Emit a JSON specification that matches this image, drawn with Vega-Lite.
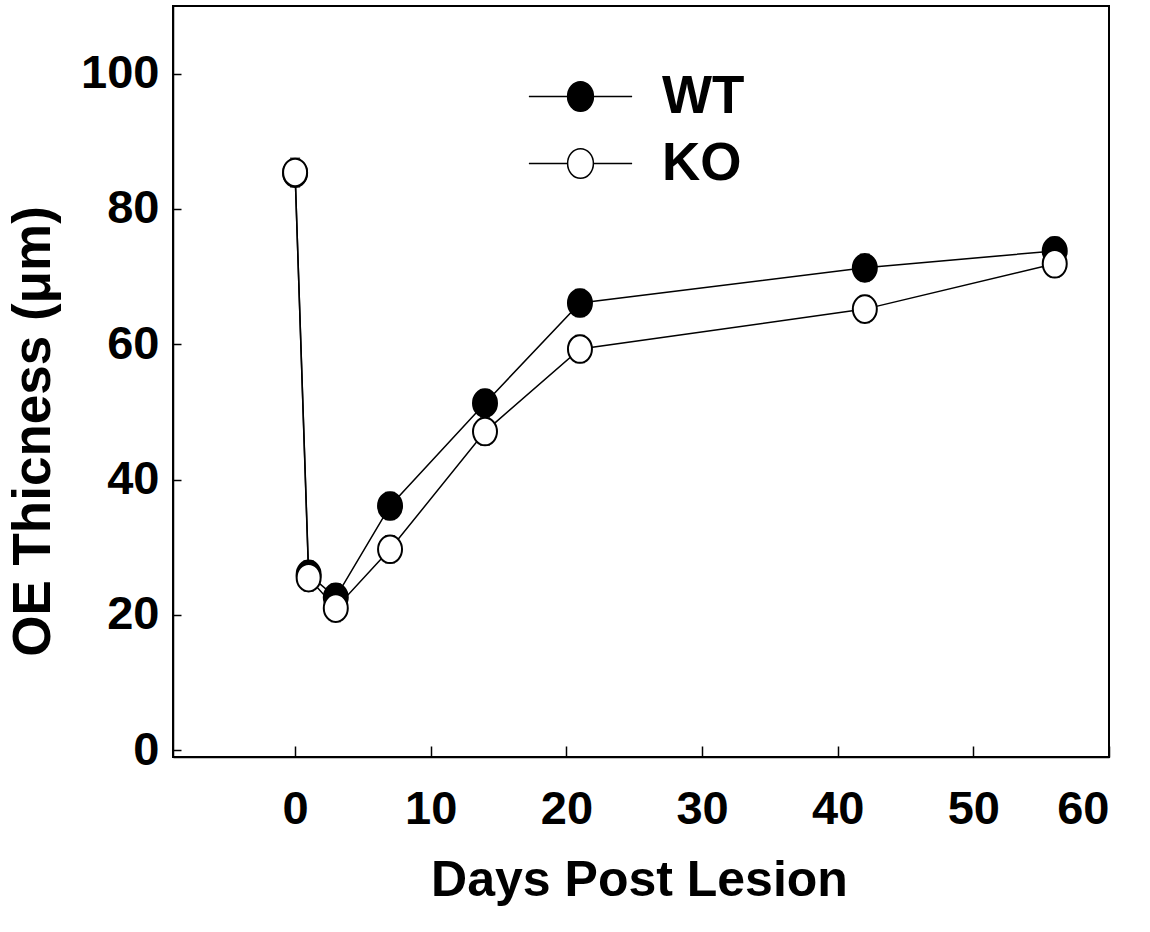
{
  "$schema": "https://vega.github.io/schema/vega-lite/v6.json",
  "width": 936,
  "height": 751,
  "autosize": "none",
  "padding": {"left": 173, "top": 6, "right": 41, "bottom": 175},
  "background": "white",
  "config": {
    "view": {"stroke": "black", "strokeWidth": 2},
    "font": "Liberation Sans",
    "axis": {
      "grid": false,
      "domainColor": "black",
      "domainWidth": 1.5,
      "tickColor": "black",
      "tickWidth": 1.5,
      "labelFont": "Liberation Sans",
      "labelFontWeight": "bold",
      "labelFontSize": 47,
      "labelColor": "black",
      "titleFont": "Liberation Sans",
      "titleFontWeight": "bold",
      "titleColor": "black"
    }
  },
  "data": {
    "values": [
      {"group": "WT", "day": 0, "thickness": 85.3, "err": 2.0},
      {"group": "WT", "day": 1, "thickness": 26.0, "err": 2.0},
      {"group": "WT", "day": 3, "thickness": 22.6, "err": 2.0},
      {"group": "WT", "day": 7, "thickness": 36.1, "err": 2.0},
      {"group": "WT", "day": 14, "thickness": 51.3, "err": 2.0},
      {"group": "WT", "day": 21, "thickness": 66.1, "err": 2.0},
      {"group": "WT", "day": 42, "thickness": 71.3, "err": 2.0},
      {"group": "WT", "day": 56, "thickness": 73.8, "err": 2.0},
      {"group": "KO", "day": 0, "thickness": 85.4, "err": 2.1},
      {"group": "KO", "day": 1, "thickness": 25.5, "err": 2.0},
      {"group": "KO", "day": 3, "thickness": 21.0, "err": 2.0},
      {"group": "KO", "day": 7, "thickness": 29.7, "err": 2.0},
      {"group": "KO", "day": 14, "thickness": 47.1, "err": 2.0},
      {"group": "KO", "day": 21, "thickness": 59.3, "err": 2.0},
      {"group": "KO", "day": 42, "thickness": 65.2, "err": 2.0},
      {"group": "KO", "day": 56, "thickness": 71.9, "err": 2.0}
    ]
  },
  "encoding": {
    "x": {
      "field": "day",
      "type": "quantitative",
      "scale": {"domain": [-9, 60], "nice": false, "zero": false},
      "axis": {
        "values": [0, 10, 20, 30, 40, 50, 60],
        "tickSize": -11,
        "labelPadding": 40,
        "labelBaseline": "top",
        "title": "Days Post Lesion",
        "titleFontSize": 50,
        "titleX": 466,
        "titleY": 138,
        "titleBaseline": "alphabetic",
        "titleAnchor": null
      }
    },
    "y": {
      "field": "thickness",
      "type": "quantitative",
      "scale": {"domain": [-1, 110], "nice": false, "zero": false},
      "axis": {
        "values": [0, 20, 40, 60, 80, 100],
        "tickSize": -8,
        "labelPadding": 22,
        "title": "OE Thicness (μm)",
        "titleFontSize": 53,
        "titleX": -140,
        "titleY": 425,
        "titleAngle": -90,
        "titleAlign": "center",
        "titleBaseline": "middle",
        "titleAnchor": null
      }
    }
  },
  "layer": [
    {
      "mark": {"type": "line", "color": "black", "strokeWidth": 1.5},
      "encoding": {"detail": {"field": "group"}, "order": {"field": "day"}}
    },
    {
      "mark": {
        "type": "errorbar",
        "color": "black",
        "rule": {"strokeWidth": 1.5},
        "ticks": {"size": 10, "thickness": 1.5}
      },
      "encoding": {
        "yError": {"field": "err"},
        "detail": {"field": "group"}
      }
    },
    {
      "mark": {
        "type": "point",
        "filled": false,
        "shape": "M 1 0 A 1 1.15 0 1 1 -1 0 A 1 1.15 0 1 1 1 0 Z",
        "size": 576,
        "stroke": "black",
        "strokeWidth": 2,
        "opacity": 1
      },
      "encoding": {
        "fill": {
          "field": "group",
          "type": "nominal",
          "scale": {"domain": ["WT", "KO"], "range": ["black", "white"]},
          "legend": {
            "title": null,
            "orient": "none",
            "legendX": 381,
            "legendY": 64,
            "padding": 0,
            "symbolSize": 666,
            "symbolStrokeColor": "black",
            "symbolStrokeWidth": 1.5,
            "symbolType": "M -4 0 H -1 M 1 0 H 4 M 1 0 A 1 1.15 0 1 1 -1 0 A 1 1.15 0 1 1 1 0 Z",
            "labelFont": "Liberation Sans",
            "labelFontWeight": "bold",
            "labelFontSize": 53,
            "labelColor": "black",
            "labelOffset": 55,
            "rowPadding": 13,
            "labelLimit": 300,
            "encode": {
              "symbols": {
                "update": {
                  "shape": {"value": "M -4 0 H -1 M 1 0 H 4 M 1 0 A 1 1.15 0 1 1 -1 0 A 1 1.15 0 1 1 1 0 Z"},
                  "stroke": {"value": "black"},
                  "strokeWidth": {"value": 1.5},
                  "opacity": {"value": 1}
                }
              }
            }
          }
        }
      }
    }
  ]
}
